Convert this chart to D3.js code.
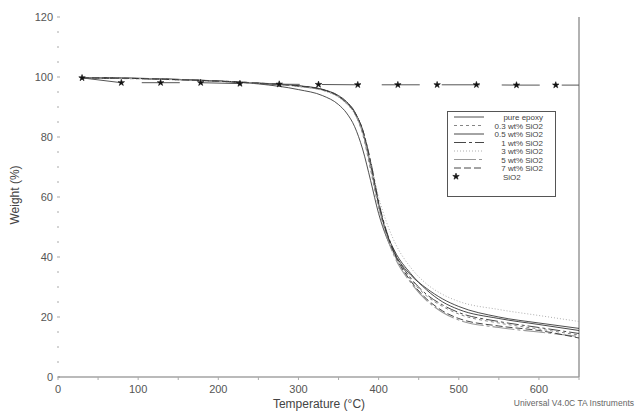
<!DOCTYPE html>
<html>
<head>
<meta charset="utf-8">
<script src="https://cdn.jsdelivr.net/npm/d3@7"></script>
<style>
  body { margin: 0; background: #fff; }
  svg { display: block; font-family: "Liberation Sans", Arial, sans-serif; }
</style>
</head>
<body>
<script>
// TGA curves, epoxy / SiO2 nanocomposites
var temps = [30, 100, 150, 200, 250, 300, 330, 350, 360, 370, 380, 390, 400, 410, 420, 440, 460, 480, 500, 550, 600, 650];

var pureEpoxy = [99.8, 99.6, 99.2, 98.6, 97.7, 95.8, 93.8, 90.8, 88.0, 83.5, 76.0, 65.5, 54.5, 46.5, 41.0, 34.0, 29.5, 26.0, 23.5, 20.0, 18.0, 16.2];
var wt03 = [99.6, 99.4, 99.1, 98.7, 98.0, 97.0, 95.7, 93.5, 91.5, 88.0, 81.0, 69.0, 56.5, 47.0, 40.5, 32.5, 27.0, 23.5, 21.0, 18.0, 16.0, 14.0];
var wt05 = [99.7, 99.5, 99.2, 98.7, 98.0, 97.1, 95.9, 93.8, 91.8, 88.5, 82.0, 70.5, 57.5, 48.0, 42.0, 34.5, 29.0, 25.0, 22.5, 19.5, 17.5, 15.5];
var wt1 = [99.7, 99.5, 99.1, 98.6, 97.9, 97.0, 95.8, 93.6, 91.5, 88.3, 82.5, 72.0, 58.5, 48.5, 41.5, 33.0, 27.5, 24.0, 21.5, 18.5, 16.5, 14.5];
var wt3 = [99.6, 99.4, 99.0, 98.5, 97.8, 96.8, 95.5, 93.2, 91.0, 87.8, 82.0, 72.0, 60.0, 51.5, 45.0, 36.5, 31.0, 27.5, 25.2, 22.5, 20.5, 18.5];
var wt5 = [99.7, 99.5, 99.1, 98.6, 97.9, 96.9, 95.6, 93.5, 91.3, 88.0, 81.5, 70.0, 57.0, 47.0, 40.0, 31.5, 25.5, 21.5, 19.0, 16.5, 15.0, 13.5];
var wt7 = [99.7, 99.5, 99.1, 98.6, 97.9, 97.0, 95.8, 93.6, 91.4, 88.2, 82.5, 71.5, 58.0, 48.0, 41.0, 32.0, 26.0, 22.0, 19.5, 17.0, 15.5, 13.0];

var sio2Temps = [30, 79, 128, 178, 227, 276, 325, 374, 424, 473, 522, 572, 621, 650];
var sio2 = [99.7, 98.1, 98.1, 98.1, 97.8, 97.6, 97.5, 97.4, 97.4, 97.4, 97.4, 97.3, 97.3, 97.3];

var legendLabels = ['pure epoxy', '0.3 wt% SiO2', '0.5 wt% SiO2', '1 wt% SiO2', '3 wt% SiO2', '5 wt% SiO2', '7 wt% SiO2', 'SiO2'];
var xTicks = [0, 100, 200, 300, 400, 500, 600];
var yTicks = [0, 20, 40, 60, 80, 100, 120];

var series = [
  { name: legendLabels[0], values: pureEpoxy, color: '#222', dash: null, w: 0.8 },
  { name: legendLabels[1], values: wt03, color: '#777', dash: '3,3', w: 0.9 },
  { name: legendLabels[2], values: wt05, color: '#333', dash: null, w: 0.9 },
  { name: legendLabels[3], values: wt1, color: '#333', dash: '12,3,3,3', w: 0.9 },
  { name: legendLabels[4], values: wt3, color: '#999', dash: '1,2', w: 0.8 },
  { name: legendLabels[5], values: wt5, color: '#999', dash: '22,3,3,3', w: 1.1 },
  { name: legendLabels[6], values: wt7, color: '#333', dash: '7,3', w: 0.9 }
];

var width = 635, height = 413;
var svg = d3.select('body').append('svg')
  .attr('width', width)
  .attr('height', height);

var x = d3.scaleLinear().domain([0, 650]).range([58, 579]);
var y = d3.scaleLinear().domain([0, 120]).range([377, 17]);

// y ticks (no axis line, just small marks)
var yMinor = d3.range(0, 121, 5);
svg.append('g').selectAll('line').data(yMinor).enter().append('line')
  .attr('x1', 57).attr('x2', function(d) { return d % 20 === 0 ? 60 : 59; })
  .attr('y1', function(d) { return y(d); })
  .attr('y2', function(d) { return y(d); })
  .attr('stroke', '#aaa').attr('stroke-width', 1);

svg.append('g').selectAll('text').data(yTicks).enter().append('text')
  .attr('x', 53).attr('y', function(d) { return y(d) + 4; })
  .attr('text-anchor', 'end')
  .attr('font-size', 11).attr('fill', '#555')
  .text(function(d) { return d; });

// x axis
svg.append('line')
  .attr('x1', x(0)).attr('x2', x(650))
  .attr('y1', y(0)).attr('y2', y(0))
  .attr('stroke', '#777').attr('stroke-width', 1.2);

svg.append('line')
  .attr('x1', x(650)).attr('x2', x(650))
  .attr('y1', y(120)).attr('y2', y(0))
  .attr('stroke', '#999').attr('stroke-width', 1.5);

svg.append('g').selectAll('line').data(d3.range(0, 651, 50)).enter().append('line')
  .attr('x1', function(d) { return x(d); })
  .attr('x2', function(d) { return x(d); })
  .attr('y1', y(0)).attr('y2', y(0) + 3)
  .attr('stroke', '#aaa');

svg.append('g').selectAll('text').data(xTicks).enter().append('text')
  .attr('x', function(d) { return x(d); }).attr('y', 393)
  .attr('text-anchor', 'middle')
  .attr('font-size', 11).attr('fill', '#555')
  .text(function(d) { return d; });

svg.append('text')
  .attr('x', 319).attr('y', 408)
  .attr('text-anchor', 'middle')
  .attr('font-size', 12).attr('fill', '#444')
  .text('Temperature (°C)');

svg.append('text')
  .attr('transform', 'translate(19,195) rotate(-90)')
  .attr('text-anchor', 'middle')
  .attr('font-size', 12).attr('fill', '#444')
  .text('Weight (%)');

svg.append('text')
  .attr('x', 634).attr('y', 406)
  .attr('text-anchor', 'end')
  .attr('font-size', 8.5).attr('fill', '#666')
  .text('Universal V4.0C TA Instruments');

// curves
var line = d3.line()
  .x(function(d) { return x(d[0]); })
  .y(function(d) { return y(d[1]); })
  .curve(d3.curveMonotoneX);

series.forEach(function(s) {
  svg.append('path')
    .datum(temps.map(function(t, i) { return [t, s.values[i]]; }))
    .attr('d', line)
    .attr('fill', 'none')
    .attr('stroke', s.color)
    .attr('stroke-width', s.w)
    .attr('stroke-dasharray', s.dash);
});

// SiO2
var sio2Data = sio2Temps.map(function(t, i) { return [t, sio2[i]]; });
svg.append('path')
  .datum(sio2Data)
  .attr('d', d3.line().x(function(d) { return x(d[0]); }).y(function(d) { return y(d[1]); }))
  .attr('fill', 'none')
  .attr('stroke', '#555')
  .attr('stroke-width', 1)
  .attr('stroke-dasharray', '38,22');

var star = d3.symbol().type(d3.symbolStar).size(13);
svg.append('g').selectAll('path').data(sio2Data.filter(function(d) { return d[0] < 650; }))
  .enter().append('path')
  .attr('d', star)
  .attr('transform', function(d) { return 'translate(' + x(d[0]) + ',' + y(d[1]) + ')'; })
  .attr('fill', '#111')
  .attr('stroke', '#111').attr('stroke-width', 0.6);

// legend
var lg = svg.append('g');
lg.append('rect')
  .attr('x', 447.5).attr('y', 111.5)
  .attr('width', 108).attr('height', 85)
  .attr('fill', '#fff').attr('stroke', '#555');

var rowY = function(i) { return 117 + i * 8.5; };

series.forEach(function(s, i) {
  lg.append('line')
    .attr('x1', 454).attr('x2', 484)
    .attr('y1', rowY(i)).attr('y2', rowY(i))
    .attr('stroke', s.color)
    .attr('stroke-width', s.w)
    .attr('stroke-dasharray', s.dash);
  lg.append('text')
    .attr('x', 543).attr('y', rowY(i) + 3)
    .attr('text-anchor', 'end')
    .attr('font-size', 8).attr('fill', '#444')
    .text(s.name);
});

lg.append('path')
  .attr('d', star)
  .attr('transform', 'translate(456,' + rowY(7) + ')')
  .attr('fill', '#111')
  .attr('stroke', '#111').attr('stroke-width', 0.6);
lg.append('text')
  .attr('x', 503).attr('y', rowY(7) + 3)
  .attr('font-size', 8).attr('fill', '#444')
  .text(legendLabels[7]);
</script>
</body>
</html>
